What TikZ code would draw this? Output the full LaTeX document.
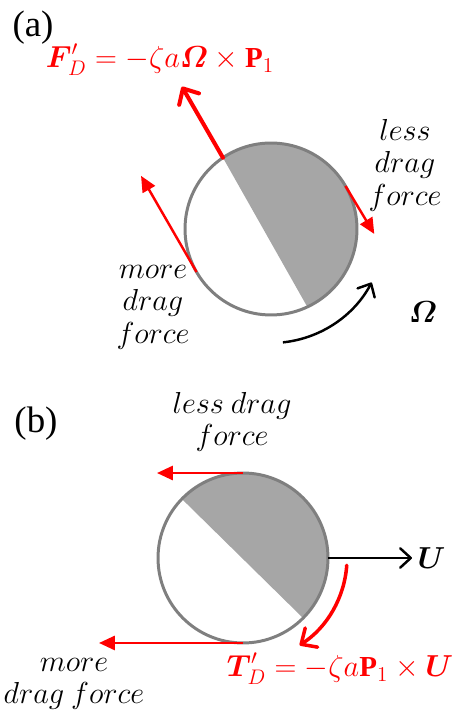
\documentclass[tikz,border=0pt]{standalone}
\usepackage{amsmath,amssymb}
\usepackage{fontspec}
\setmainfont{Liberation Serif}
\usepackage{tikz}
\usetikzlibrary{
  arrows.meta,
  positioning,
  backgrounds,
  calc
}
\definecolor{forcered}{HTML}{FF0000}
\definecolor{halfgrey}{HTML}{A6A6A6}
\definecolor{rimgrey}{HTML}{7F7F7F}
\tikzset{
  ball/.style={
    circle, draw=rimgrey, line width=1.7pt, minimum size=#1,
    inner sep=0pt, outer sep=0pt
  },
  bigforce/.style={
    -{Straight Barb[length=7pt,width=13pt,round]},
    line width=2.3pt, color=forcered, line cap=round
  },
  smallforce/.style={
    -{Triangle[length=9pt,width=8pt]}, line width=1.4pt, color=forcered
  },
  motion/.style={
    -{Straight Barb[length=6pt,width=11pt,round]}, line width=1.4pt, color=black
  },
  torque/.style={
    -{Straight Barb[length=7pt,width=13pt,round]},
    line width=2pt, color=forcered, line cap=round
  },
  annot/.style={
    font=\fontsize{16}{18.5}\selectfont, align=center, inner sep=0pt
  },
  panel/.style={
    font=\fontsize{21}{24}\selectfont, inner sep=0pt
  },
  formula/.style={
    font=\fontsize{16.5}{19}\selectfont, text=forcered, inner sep=0pt
  },
}

\begin{document}
\begin{tikzpicture}[x=0.02cm, y=0.02cm, node distance=3pt]
  \useasboundingbox (0,0) rectangle (456,717);

  % (a) rotating particle
  \node[ball=3.44cm] (cA) at (271,488) {};
  \begin{scope}[on background layer]
    \fill[halfgrey] (cA.124) arc[start angle=124, end angle=-65, radius=86] -- cycle;
  \end{scope}
  \coordinate (fTip) at ($(cA.124)+(120:82)$);
  \coordinate (moreTipA) at ($(cA.210)+(120:111)$);
  \coordinate (lessTipA) at ($(cA.30)+(-59:56)$);
  \coordinate (spinA) at ($(cA)+(-84:114)$);
  \draw[bigforce] (cA.124) -- (fTip);
  \draw[smallforce] (cA.210) -- (moreTipA);
  \draw[smallforce] (cA.30) -- (lessTipA);
  \draw[motion] (spinA) arc[start angle=-84, end angle=-28, radius=114];

  \node[panel] (labA) at (33,689) {(a)};
  \node[formula, anchor=base] (eqA) at (160,649)
    {$\boldsymbol{F}'_{\!D} = -\zeta a\boldsymbol{\varOmega}\times\mathbf{P}_1$};
  \node[annot] (lessA) at (405,552) {$less$\\$drag$\\$force$};
  \node[annot] (moreA) at (153,410) {$more$\\$drag$\\$force$};
  \node[annot] (omA) at (423,405) {$\boldsymbol{\varOmega}$};

  % (b) translating particle
  \node[ball=3.4cm] (cB) at (243,159) {};
  \begin{scope}[on background layer]
    \fill[halfgrey] (cB.136) arc[start angle=136, end angle=-45, radius=85] -- cycle;
  \end{scope}
  \coordinate (topTip) at ($(cB.90)+(-86,0)$);
  \coordinate (botTip) at ($(cB.270)+(-144,0)$);
  \coordinate (uTip) at ($(cB.0)+(84,0)$);
  \coordinate (spinB) at ($(cB)+(-4:104)$);
  \draw[smallforce] (cB.90) -- (topTip);
  \draw[smallforce] (cB.270) -- (botTip);
  \draw[motion] (cB.0) -- (uTip);
  \draw[torque] (spinB) arc[start angle=-4, end angle=-57, radius=104];

  \node[panel] (labB) at (36,293) {(b)};
  \node[annot, right=of uTip] (uLab) {$\boldsymbol{U}$};
  \node[formula, anchor=base] (eqB) at (340,40)
    {$\boldsymbol{T}'_{\!D} = -\zeta a\mathbf{P}_1\times\boldsymbol{U}$};
  \node[annot] (lessB) at (232,295) {$less\ drag$\\$force$};
  \node[annot] (moreB) at (74,33) {$more$\\$drag\ force$};
\end{tikzpicture}
\end{document}
